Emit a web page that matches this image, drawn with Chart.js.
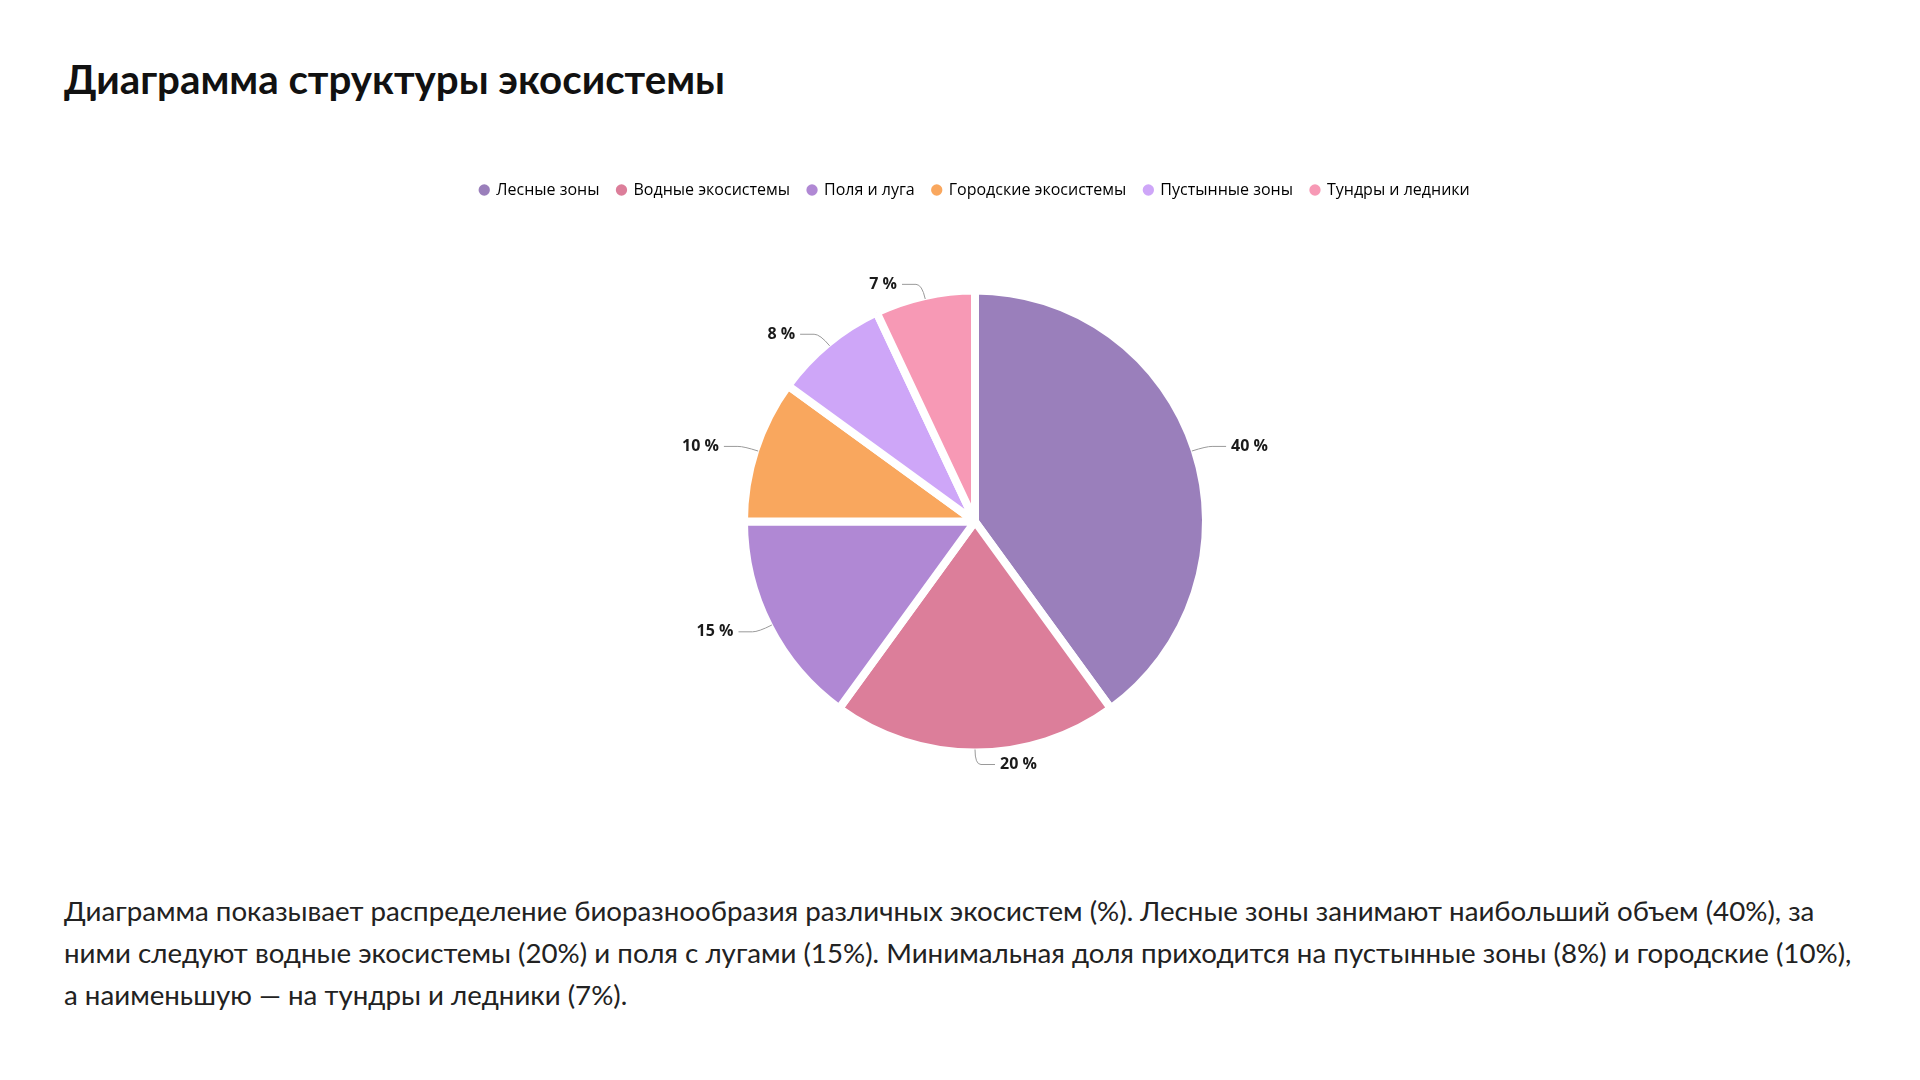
<!DOCTYPE html>
<html lang="ru">
<head>
<meta charset="utf-8">
<script src="https://cdn.jsdelivr.net/npm/chart.js@4.4.1/dist/chart.umd.min.js"></script>
<style>
  html, body { margin: 0; padding: 0; background: #ffffff; }
  body { width: 1920px; height: 1080px; position: relative; overflow: hidden; }
  #title {
    position: absolute; left: 64px; top: 51px; margin: 0;
    font-family: Lato, sans-serif; font-weight: 700; font-size: 40.3px; color: #111;
    line-height: 56px;
  }
  #wrap { position: absolute; left: 225px; top: 164px; width: 1500px; height: 708px; }
  #desc {
    position: absolute; left: 64px; top: 890px; width: 1805px; margin: 0;
    font-family: Lato, sans-serif; font-size: 27.7px; line-height: 42px; color: #222;
  }
</style>
</head>
<body>
<h1 id="title">Диаграмма структуры экосистемы</h1>
<div id="wrap"><canvas id="c"></canvas></div>
<p id="desc">Диаграмма показывает распределение биоразнообразия различных экосистем (%). Лесные зоны занимают наибольший объем (40%), за ними следуют водные экосистемы (20%) и поля с лугами (15%). Минимальная доля приходится на пустынные зоны (8%) и городские (10%), а наименьшую — на тундры и ледники (7%).</p>
<script>
const categories = ['Лесные зоны', 'Водные экосистемы', 'Поля и луга', 'Городские экосистемы', 'Пустынные зоны', 'Тундры и ледники'];
const values = [40, 20, 15, 10, 8, 7];
const colors = ['#9A7FBB', '#DC7E9A', '#B088D4', '#F9A75E', '#CEA6F8', '#F799B5'];

const labelPlugin = {
  id: 'outLabels',
  afterDatasetsDraw(chart) {
    const ctx = chart.ctx;
    const meta = chart.getDatasetMeta(0);
    ctx.save();
    meta.data.forEach((arc, i) => {
      const p = arc.getProps(['x', 'y', 'startAngle', 'endAngle', 'outerRadius'], true);
      const mid = (p.startAngle + p.endAngle) / 2;
      const r0 = p.outerRadius - 3;
      const cx = Math.cos(mid), cy = Math.sin(mid);
      const x0 = p.x + cx * r0, y0 = p.y + cy * r0;
      const x1 = p.x + cx * (r0 + 15), y1 = p.y + cy * (r0 + 15);
      const dir = cx >= -1e-6 ? 1 : -1;
      const x2 = x1 + dir * 20;
      ctx.strokeStyle = '#9a9a9a';
      ctx.lineWidth = 1;
      ctx.beginPath();
      ctx.moveTo(x0, y0);
      ctx.quadraticCurveTo(x1, y1, x1 + dir * 6, y1);
      ctx.lineTo(x2, y1);
      ctx.stroke();
      ctx.fillStyle = '#1a1a1a';
      ctx.font = 'bold 16px "Open Sans", sans-serif';
      ctx.textBaseline = 'middle';
      ctx.textAlign = dir > 0 ? 'left' : 'right';
      ctx.fillText(values[i] + ' %', x2 + dir * 5, y1);
    });
    ctx.restore();
  }
};

new Chart(document.getElementById('c'), {
  type: 'pie',
  data: {
    labels: categories,
    datasets: [{
      data: values,
      backgroundColor: colors,
      borderColor: '#ffffff',
      borderWidth: 8,
      hoverOffset: 0,
      radius: 231
    }]
  },
  options: {
    responsive: true,
    maintainAspectRatio: false,
    animation: false,
    layout: { padding: { bottom: 37 } },
    plugins: {
      legend: {
        position: 'top',
        labels: {
          usePointStyle: true,
          pointStyle: 'circle',
          boxWidth: 8,
          boxHeight: 8,
          padding: 18,
          color: '#444',
          font: { family: '"Open Sans", sans-serif', size: 16 },
          generateLabels(chart) {
            return chart.data.labels.map((l, i) => ({
              text: l,
              fillStyle: colors[i],
              strokeStyle: colors[i],
              lineWidth: 0,
              pointStyle: 'circle',
              hidden: false,
              index: i,
              datasetIndex: 0
            }));
          }
        }
      },
      tooltip: { enabled: false }
    }
  },
  plugins: [labelPlugin]
});
</script>
</body>
</html>
